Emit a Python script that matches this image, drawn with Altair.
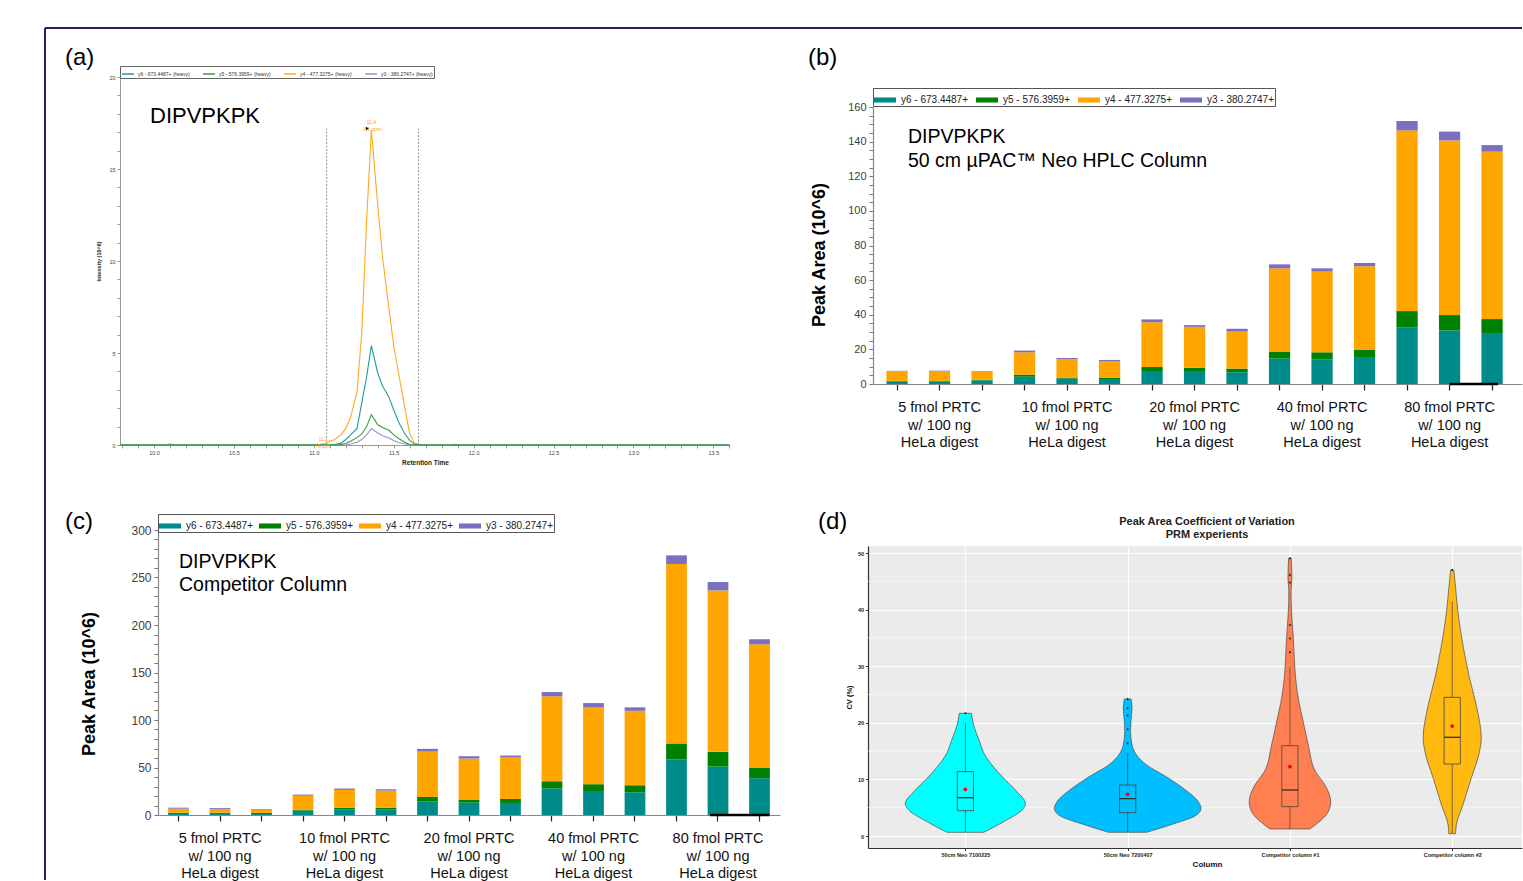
import altair as alt
import pandas as pd

FONT = "Liberation Sans, Arial, Helvetica, sans-serif"
NAVY = "#1F2466"

# ---------------- (a) chromatogram ----------------
ions_a = ["y6 - 673.4487+ (heavy)", "y5 - 576.3959+ (heavy)",
          "y4 - 477.3275+ (heavy)", "y3 - 380.2747+ (heavy)"]
colors_a = ["#1E9E9A", "#3A9A3A", "#FFAA22", "#9A8FD6"]
rt = [9.79, 10.07, 10.10, 10.13, 11.00, 11.03, 11.07, 11.10, 11.13, 11.17,
      11.20, 11.23, 11.27, 11.30, 11.33, 11.36, 11.40, 11.43, 11.47, 11.50,
      11.53, 11.57, 11.60, 11.63, 11.67, 11.70, 11.83, 11.88, 11.93, 13.60]
int_y6 = [0, 0, 0, 0, 0, 0, 0, 0, 0.03, 0.1,
          0.3, 0.55, 0.9, 2.3, 3.7, 5.4, 3.9, 3.2, 2.6, 1.9,
          1.25, 0.6, 0.25, 0.05, 0, 0, 0, 0, 0, 0]
int_y5 = [0, 0, 0, 0, 0, 0, 0, 0, 0, 0.02,
          0.08, 0.2, 0.4, 0.6, 1.0, 1.65, 1.1, 0.95, 0.8, 0.55,
          0.35, 0.15, 0.03, 0, 0, 0, 0, 0, 0, 0]
int_y4 = [0, 0, 0.06, 0, 0, 0.02, 0.08, 0.2, 0.3, 0.55,
          0.9, 1.5, 2.9, 6.1, 12.2, 17.1, 13.0, 10.2, 7.4, 5.4,
          3.9, 2.0, 0.6, 0.1, 0, 0, 0, 0.04, 0, 0]
int_y3 = [0, 0, 0, 0, 0, 0, 0, 0, 0, 0,
          0, 0.05, 0.15, 0.3, 0.55, 0.9, 0.65, 0.5, 0.38, 0.25,
          0.14, 0.05, 0, 0, 0, 0, 0, 0, 0, 0]
bound_rt = [11.08, 11.655]
bound_top = [17.2, 17.2]
peak_rt, peak_int, peak_txt = [11.36], [17.25], ["11.4\n-3.1 ppm"]
start_rt, start_int, start_txt = [11.057], [0.15], ["11.1\n-3 ppm"]
xa_ticks = [round(9.8 + 0.1 * i, 1) for i in range(39)]
ya_ticks = list(range(0, 21))

# ---------------- (b), (c) stacked bars ----------------
bars = list(range(1, 16))
ions_bar = ["y6 - 673.4487+", "y5 - 576.3959+", "y4 - 477.3275+", "y3 - 380.2747+"]
colors_bar = ["#008B8B", "#008000", "#FFA500", "#7B6FC0"]
groups = ["5 fmol PRTC\nw/ 100 ng\nHeLa digest", "10 fmol PRTC\nw/ 100 ng\nHeLa digest",
          "20 fmol PRTC\nw/ 100 ng\nHeLa digest", "40 fmol PRTC\nw/ 100 ng\nHeLa digest",
          "80 fmol PRTC\nw/ 100 ng\nHeLa digest"]
group_mid = [2, 5, 8, 11, 14]
mark_from, mark_to = [14], [15]   # dark segment drawn on the category axis

b_y6 = [1.5, 1.5, 2.1, 4.2, 3.1, 2.9, 7.5, 7.5, 6.8, 14.7, 14.3, 15.6, 32.6, 30.9, 29.0]
b_y5 = [0.3, 0.3, 0.3, 1.2, 0.6, 0.6, 2.3, 1.8, 2.1, 4.0, 4.0, 4.1, 9.5, 8.9, 8.5]
b_y4 = [5.6, 5.7, 4.9, 12.9, 10.6, 9.8, 25.9, 23.7, 21.4, 48.1, 46.6, 48.3, 104.4, 100.9, 96.7]
b_y3 = [0.2, 0.2, 0.2, 1.0, 0.7, 0.6, 1.6, 1.0, 1.6, 2.3, 1.9, 1.9, 5.4, 5.1, 3.8]

c_y6 = [1.2, 1.2, 1.1, 4.6, 6.0, 5.6, 14.1, 13.0, 12.7, 28.1, 25.3, 23.9, 58.7, 51.0, 38.7]
c_y5 = [1.3, 1.2, 1.1, 1.0, 1.7, 2.1, 4.9, 3.2, 4.2, 7.4, 7.1, 7.4, 16.6, 15.5, 10.9]
c_y4 = [4.2, 3.9, 3.4, 14.8, 18.7, 18.0, 47.8, 43.2, 43.6, 89.4, 81.2, 78.4, 188.9, 169.9, 130.1]
c_y3 = [1.0, 0.9, 0.7, 1.1, 1.4, 1.4, 2.8, 2.5, 2.1, 4.5, 4.2, 3.6, 9.1, 8.8, 5.3]

# ---------------- (d) violins ----------------
cats_d = ["50cm Neo 7100225", "50cm Neo 7200407", "Competitor column #1", "Competitor column #2"]
fills_d = ["#00FFFF", "#00BFFF", "#FF7F50", "#FFB90F"]
v1_cv = [0.65, 2.53, 4.59, 5.77, 7.83, 10.19, 12.54, 14.6, 16.66, 19.61, 21.68]
v1_hw = [0.113, 0.236, 0.349, 0.370, 0.318, 0.236, 0.164, 0.115, 0.088, 0.051, 0.037]
v2_cv = [0.65, 1.94, 3.71, 4.89, 6.07, 8.42, 10.78, 12.54, 14.31, 16.08, 18.43, 20.5, 22.56, 24.2]
v2_hw = [0.117, 0.261, 0.425, 0.452, 0.435, 0.343, 0.220, 0.117, 0.055, 0.027, 0.018, 0.021, 0.027, 0.021]
v3_cv = [1.24, 4.3, 6.07, 9.01, 11.37, 16.08, 20.2, 23.74, 27.86, 31.4, 34.93, 39.63, 43.17, 45.53, 49.06]
v3_hw = [0.123, 0.236, 0.251, 0.216, 0.158, 0.113, 0.082, 0.055, 0.035, 0.027, 0.021, 0.010, 0.007, 0.012, 0.008]
v4_cv = [0.41, 1.94, 5.48, 10.19, 14.9, 17.26, 23.14, 27.86, 33.75, 39.63, 43.76, 47.0]
v4_hw = [0.021, 0.025, 0.066, 0.117, 0.168, 0.179, 0.148, 0.107, 0.066, 0.035, 0.021, 0.010]
box_q1 = [4.47, 4.12, 5.19, 12.72]
box_med = [6.77, 6.6, 8.13, 17.44]
box_q3 = [11.37, 9.01, 15.96, 24.5]
whisk_lo = [0.65, 0.65, 1.24, 0.41]
whisk_hi = [19.9, 14.6, 29.8, 41.4]
cv_mean = [8.24, 7.36, 12.25, 19.43]
outliers = [[21.7], [16.4, 18.85, 21.3, 22.56, 24.2],
            [32.45, 34.9, 37.3, 44.8, 46.1, 49.06], [47.0]]
minor_cv = [5, 15, 25, 35, 45]

one = pd.DataFrame({"k": [0]})


def label(txt, x, y, size, align="left", weight="normal", angle=0, color="#000"):
    return alt.Chart(one).mark_text(
        text=txt, font=FONT, fontSize=size, align=align, baseline="middle",
        fontWeight=weight, angle=angle, color=color, lineBreak="\n"
    ).encode(x=alt.value(x), y=alt.value(y))


# ===== panel a =====
rows = []
for ion, vals in zip(ions_a, [int_y6, int_y5, int_y4, int_y3]):
    for t, v in zip(rt, vals):
        rows.append({"rt": t, "inten": v, "ion": ion})
df_a = pd.DataFrame(rows)

xsa = alt.Scale(domain=[9.787, 13.604], range=[0, 610], nice=False, zero=False)
ysa = alt.Scale(domain=[0, 20], nice=False)
axa_x = alt.Axis(values=xa_ticks,
                 labelExpr="round(datum.value*10) % 5 == 0 ? format(datum.value, '.1f') : ''",
                 tickSize=3, tickColor="#999", domainColor="#999", labelFontSize=5.5,
                 labelColor="#444", labelPadding=2, labelOverlap=False, labelFlush=False,
                 grid=False, title="Retention Time", titleFontSize=6.5, titleFontWeight="bold",
                 titleColor="#222", titlePadding=4)
axa_y = alt.Axis(values=ya_ticks, labelExpr="datum.value % 5 == 0 ? '' + datum.value : ''",
                 tickSize=3, tickColor="#999", domainColor="#999", labelFontSize=5.5,
                 labelColor="#444", labelPadding=2, labelOverlap=False, grid=False,
                 title="Intensity (10^6)", titleFontSize=5.5, titleFontWeight="bold",
                 titleColor="#222", titlePadding=7)
leg_a = alt.Legend(orient="none", legendX=0, legendY=-11, direction="horizontal",
                   strokeColor="#666", padding=1, symbolType="stroke", symbolSize=144,
                   symbolStrokeWidth=1.5, labelFontSize=5, labelColor="#333",
                   columnPadding=10, labelOffset=3)
color_a = alt.Color("ion:N", scale=alt.Scale(domain=ions_a, range=colors_a), legend=leg_a, title=None)
xa = alt.X("rt:Q", scale=xsa, axis=axa_x)
ya = alt.Y("inten:Q", scale=ysa, axis=axa_y)

lines_a = [
    alt.Chart(df_a).transform_filter(alt.datum.ion == ion)
    .mark_line(strokeWidth=1.1).encode(x=xa, y=ya, color=color_a)
    for ion in [ions_a[2], ions_a[3], ions_a[0], ions_a[1]]
]
df_rule = pd.DataFrame({"rt": bound_rt, "lo": [0, 0], "inten": bound_top})
rules_a = alt.Chart(df_rule).mark_rule(strokeDash=[2, 1.5], color="#888", strokeWidth=0.9).encode(
    x=xa, y=alt.Y("lo:Q", scale=ysa, axis=axa_y), y2="inten:Q")
pk = alt.Chart(pd.DataFrame({"rt": peak_rt, "inten": peak_int, "t": peak_txt})).mark_text(
    lineBreak="\n", fontSize=5, color="#FFA500", baseline="bottom", dy=-3, font=FONT
).encode(x=xa, y=ya, text="t:N")
st = alt.Chart(pd.DataFrame({"rt": start_rt, "inten": start_int, "t": start_txt})).mark_text(
    lineBreak="\n", fontSize=4.5, color="#FFA500", baseline="bottom", font=FONT
).encode(x=xa, y=ya, text="t:N")
tri = alt.Chart(pd.DataFrame({"rt": [11.335], "inten": [17.2]})).mark_point(
    shape="triangle-right", filled=True, color="black", size=12, opacity=1
).encode(x=xa, y=ya)
border_top = alt.Chart(one).mark_rule(color=NAVY, strokeWidth=2).encode(
    x=alt.value(-75), x2=alt.value(1402), y=alt.value(-49))
border_left = alt.Chart(one).mark_rule(color=NAVY, strokeWidth=2).encode(
    x=alt.value(-75), y=alt.value(-49), y2=alt.value(803))

panel_a = alt.layer(
    border_top, border_left, rules_a, *lines_a, pk, st, tri,
    label("(a)", -55, -19, 24), label("DIPVPKPK", 30, 39, 22)
).properties(width=647, height=368)


# ===== panels b / c =====
def bar_panel(segs, ydom, yrng, ystep, yevery, ylab, xrng, po, aln, axoff,
              legx, legy, colpad, cw, ch, grp_y, seg_off, extra):
    rows = []
    for k, (ion, vals) in enumerate(zip(ions_bar, segs)):
        for b, v in zip(bars, vals):
            rows.append({"bar": b, "ion": ion, "k": k, "val": v})
    df = pd.DataFrame(rows)
    xs = alt.Scale(domain=bars, range=xrng, paddingInner=0.5, paddingOuter=po, align=aln)
    ys = alt.Scale(domain=ydom, range=yrng, nice=False, zero=True)
    ax_x = alt.Axis(labels=False, tickSize=6, tickColor="#222", tickWidth=1.2,
                    domainColor="#888", domainWidth=1.2, grid=False, title=None)
    ax_y = alt.Axis(values=list(range(ydom[0], ydom[1] + 1, ystep)),
                    labelExpr=f"datum.value % {yevery} == 0 ? '' + datum.value : ''",
                    offset=axoff, tickSize=4, tickColor="#777", domainColor="#888",
                    domainWidth=1.2, labelFontSize=ylab, labelColor="#404040",
                    labelPadding=3, labelOverlap=False, grid=False, title=None)
    leg = alt.Legend(orient="none", legendX=legx, legendY=legy, direction="horizontal",
                     strokeColor="#555", padding=1,
                     symbolType="M-1,-0.23L1,-0.23L1,0.23L-1,0.23Z", symbolSize=484,
                     symbolStrokeWidth=0, labelFontSize=10, labelColor="#222",
                     columnPadding=colpad, labelOffset=5)
    col = alt.Color("ion:N", scale=alt.Scale(domain=ions_bar, range=colors_bar), legend=leg, title=None)
    bl = alt.Chart(df).mark_bar().encode(
        x=alt.X("bar:O", scale=xs, axis=ax_x),
        y=alt.Y("val:Q", scale=ys, axis=ax_y, stack="zero"),
        color=col, order=alt.Order("k:Q", sort="ascending"))
    seg = alt.Chart(pd.DataFrame({"bar": mark_from, "bar2": mark_to})).mark_rule(
        color="#000", strokeWidth=2.5, xOffset=seg_off[0], x2Offset=seg_off[1]).encode(
        x=alt.X("bar:O", scale=xs, axis=ax_x), x2="bar2:O", y=alt.value(ch))
    gdf = pd.DataFrame({"bar": group_mid, "lab": groups})
    grp = alt.Chart(gdf).mark_text(lineBreak="\n", baseline="top", align="center",
                                   fontSize=14.5, lineHeight=17.5, font=FONT, color="#111").encode(
        x=alt.X("bar:O", scale=xs, axis=ax_x), y=alt.value(grp_y), text="lab:N")
    return alt.layer(bl, seg, grp, *extra).properties(width=cw, height=ch)


panel_b = bar_panel(
    [b_y6, b_y5, b_y4, b_y3], [0, 160], [307, 30], 5, 20, 11, [5, 654], 0.385, 0.41, -5,
    5, 11, 8, 654, 307, 324, (0, 6),
    [label("(b)", -60, -19, 24),
     label("Peak Area (10^6)", -48, 178, 18, align="center", weight="bold", angle=270),
     label("DIPVPKPK", 40, 60, 19.5),
     label("50 cm µPAC™ Neo HPLC Column", 40, 84, 19.5)])

panel_c = bar_panel(
    [c_y6, c_y5, c_y4, c_y3], [0, 300], [269, -16], 10, 50, 12, [38, 660], 0.244, 0.5, -38,
    38, -32, 6, 647, 269, 286, (-8, 10),
    [label("(c)", -55, -24, 24),
     label("Peak Area (10^6)", -30, 138, 18, align="center", weight="bold", angle=270),
     label("DIPVPKPK", 59, 16, 19.5),
     label("Competitor Column", 59, 39, 19.5)])

# ===== panel d =====
vrows = []
for i, (c, cvs, hws) in enumerate(zip(cats_d, [v1_cv, v2_cv, v3_cv, v4_cv], [v1_hw, v2_hw, v3_hw, v4_hw])):
    for cv, hw in zip(cvs, hws):
        vrows.append({"cat": c, "pos": i + 1, "cv": cv, "hw": hw})
df_v = pd.DataFrame(vrows)
df_box = pd.DataFrame({"cat": cats_d, "pos": [1, 2, 3, 4], "q1": box_q1, "med": box_med,
                       "q3": box_q3, "wlo": whisk_lo, "whi": whisk_hi, "mean": cv_mean})
orows = []
for i, (c, vals) in enumerate(zip(cats_d, outliers)):
    for v in vals:
        orows.append({"cat": c, "pos": i + 1, "cv": v})
df_out = pd.DataFrame(orows)

xsd = alt.Scale(domain=[0.4, 4.43], nice=False, zero=False)
ysd = alt.Scale(domain=[-2.12, 51.24], nice=False, zero=False)
lab_js = "[" + ",".join("'" + c + "'" for c in cats_d) + "]"
axd_x = alt.Axis(values=[1, 2, 3, 4], labelExpr=lab_js + "[datum.value - 1]", title="Column",
                 grid=True, gridColor="white", gridWidth=1, domainColor="#333", domainWidth=1.2,
                 tickColor="#333", tickSize=2.5, labelFontSize=5.5, labelFontWeight="bold",
                 labelColor="#222", titleFontSize=8, titleFontWeight="bold", titleColor="#111",
                 labelPadding=2, titlePadding=2, titleX=339)
axd_y = alt.Axis(values=[0, 10, 20, 30, 40, 50], title="CV (%)", grid=True, gridColor="white",
                 gridWidth=1.1, domainColor="#333", domainWidth=1.2, tickColor="#333",
                 tickSize=2.5, labelFontSize=5.5, labelFontWeight="bold", labelColor="#222",
                 titleFontSize=7.5, titleFontWeight="bold", titleColor="#111",
                 labelPadding=2, titlePadding=4)
col_d = alt.Color("cat:N", scale=alt.Scale(domain=cats_d, range=fills_d), legend=None)

minor = alt.Chart(pd.DataFrame({"cv": minor_cv})).mark_rule(color="white", strokeWidth=0.5).encode(
    y=alt.Y("cv:Q", scale=ysd, axis=axd_y))
vio = alt.Chart(df_v).transform_calculate(
    xl="datum.pos - datum.hw", xr="datum.pos + datum.hw"
).mark_area(orient="horizontal", interpolate="monotone", stroke="#4d4d4d", strokeWidth=0.7,
            opacity=1).encode(
    y=alt.Y("cv:Q", scale=ysd, axis=axd_y),
    x=alt.X("xl:Q", scale=xsd, axis=axd_x), x2="xr:Q", color=col_d)
whisk = alt.Chart(df_box).mark_rule(color="#444", strokeWidth=0.7).encode(
    x=alt.X("pos:Q", scale=xsd, axis=axd_x),
    y=alt.Y("wlo:Q", scale=ysd, axis=axd_y), y2="whi:Q")
box = alt.Chart(df_box).transform_calculate(
    bl="datum.pos - 0.05", br="datum.pos + 0.05"
).mark_rect(stroke="#444", strokeWidth=0.8, opacity=1).encode(
    x=alt.X("bl:Q", scale=xsd, axis=axd_x), x2="br:Q",
    y=alt.Y("q1:Q", scale=ysd, axis=axd_y), y2="q3:Q", color=col_d)
med = alt.Chart(df_box).transform_calculate(
    bl="datum.pos - 0.05", br="datum.pos + 0.05"
).mark_rule(color="#333", strokeWidth=1.3).encode(
    x=alt.X("bl:Q", scale=xsd, axis=axd_x), x2="br:Q",
    y=alt.Y("med:Q", scale=ysd, axis=axd_y))
meanp = alt.Chart(df_box).mark_point(filled=True, color="#FF0000", size=14, opacity=1).encode(
    x=alt.X("pos:Q", scale=xsd, axis=axd_x), y=alt.Y("mean:Q", scale=ysd, axis=axd_y))
outp = alt.Chart(df_out).mark_point(filled=True, color="#222", size=4, opacity=1).encode(
    x=alt.X("pos:Q", scale=xsd, axis=axd_x), y=alt.Y("cv:Q", scale=ysd, axis=axd_y))

panel_d = alt.layer(
    minor, vio, whisk, box, med, meanp, outp,
    label("(d)", -50, -24, 24),
    label("Peak Area Coefficient of Variation", 339, -24, 11, align="center", weight="bold", color="#222"),
    label("PRM experients", 339, -11, 11, align="center", weight="bold", color="#222"),
).properties(width=654, height=302, view=alt.ViewBackground(fill="#EBEBEB", strokeWidth=0))

chart = alt.concat(
    panel_a, panel_b, panel_c, panel_d, columns=2, spacing=101, bounds="flush", align="each"
).resolve_scale(
    x="independent", y="independent", color="independent"
).properties(
    padding={"left": 44, "top": 27, "right": 0, "bottom": 0}
).configure_view(strokeWidth=0).configure_axis(labelFont=FONT, titleFont=FONT).configure_legend(
    labelFont=FONT)

chart.save("out.html", embed_options={"renderer": "svg", "actions": False})
